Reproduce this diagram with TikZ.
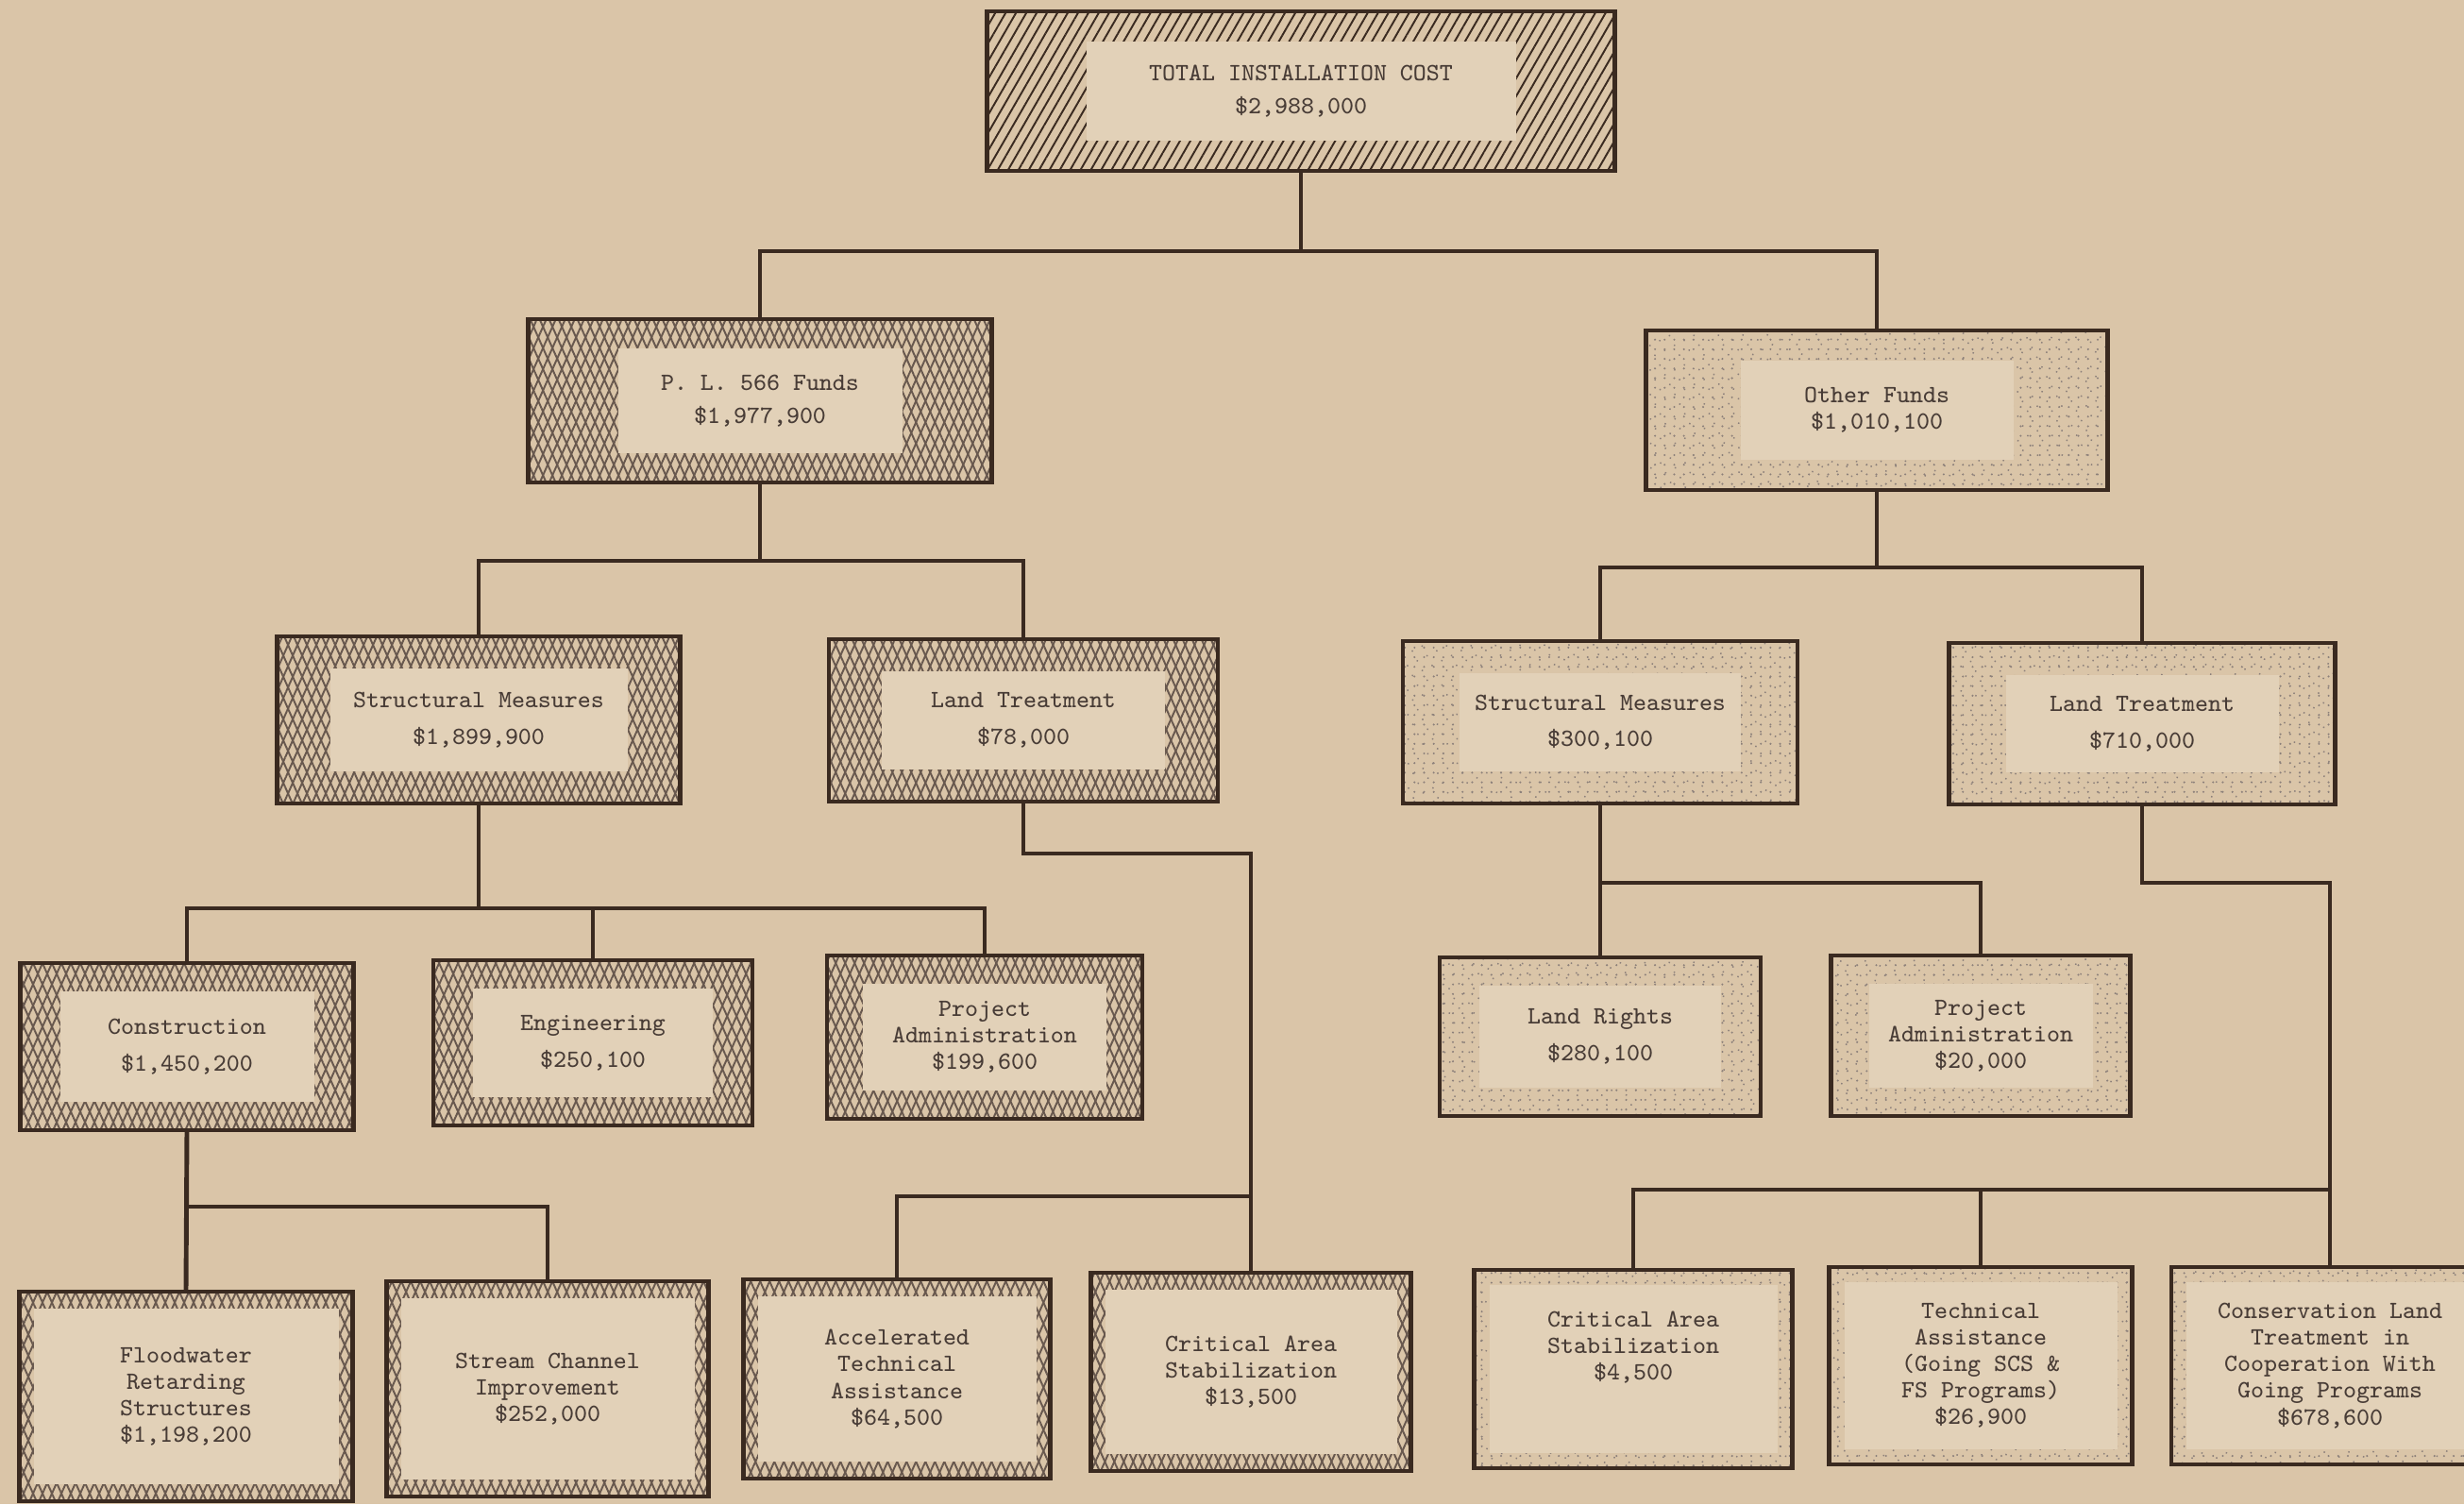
\documentclass[tikz,border=0pt]{standalone}
\usepackage{tikz}
\usetikzlibrary{patterns.meta}

\definecolor{bgc}{RGB}{218,197,168}
\definecolor{paper}{RGB}{226,209,184}
\definecolor{ink}{RGB}{58,42,32}
\definecolor{meshc}{RGB}{104,88,78}
\definecolor{dotc}{RGB}{140,128,122}
\definecolor{textc}{RGB}{72,60,54}

\begin{document}
\begin{tikzpicture}[
    box/.style 2 args={draw=ink, line width=1.4pt, inner sep=0pt, outer sep=0pt,
        align=center, text=textc,
        font=\ttfamily\fontsize{7.5}{8}\selectfont,
        path picture={\fill[paper]
            ([xshift=#1, yshift=-#2]path picture bounding box.north west) rectangle
            ([xshift=-#1, yshift=#2]path picture bounding box.south east);}},
    boxsize/.style 2 args={minimum width=#1cm, minimum height=#2cm},
    hatch/.style={pattern={Lines[angle=60, distance=2.7pt, line width=0.55pt]},
        pattern color=ink},
    mesh/.style={preaction={pattern={Lines[angle=66, distance=2.6pt, line width=0.55pt]},
            pattern color=meshc},
        pattern={Lines[angle=-66, distance=2.6pt, line width=0.55pt]},
        pattern color=meshc},
    stipple/.style={preaction={pattern={Dots[distance=2.9pt, radius=0.33pt]},
            pattern color=dotc},
        pattern={Dots[angle=27, distance=3.3pt, radius=0.3pt, xshift=1.1pt]},
        pattern color=dotc},
    wire/.style={draw=ink, line width=1.4pt}
]
    \useasboundingbox (0,0) rectangle (26.1,-15.93);
    \fill[bgc] (0,0) rectangle (26.1,-15.93);

    \node[box={1.05cm}{0.32cm}, hatch, boxsize={6.65}{1.69}] (total) at (13.78,-0.965)
        {TOTAL INSTALLATION COST\\[2pt]\$2,988,000};

    \node[box={0.95cm}{0.31cm}, mesh, boxsize={4.91}{1.73}] (pl) at (8.05,-4.245)
        {P. L. 566 Funds\\[2pt]\$1,977,900};
    \node[box={1.0cm}{0.32cm}, stipple, boxsize={4.89}{1.69}] (other) at (19.88,-4.345)
        {Other Funds\\\$1,010,100};

    \node[box={0.56cm}{0.34cm}, mesh, boxsize={4.27}{1.77}] (smA) at (5.07,-7.625)
        {Structural Measures\\[3pt]\$1,899,900};
    \node[box={0.56cm}{0.34cm}, mesh, boxsize={4.12}{1.72}] (ltA) at (10.84,-7.63)
        {Land Treatment\\[3pt]\$78,000};
    \node[box={0.6cm}{0.34cm}, stipple, boxsize={4.18}{1.72}] (smB) at (16.95,-7.65)
        {Structural Measures\\[3pt]\$300,100};
    \node[box={0.6cm}{0.34cm}, stipple, boxsize={4.09}{1.71}] (ltB) at (22.69,-7.665)
        {Land Treatment\\[3pt]\$710,000};

    \node[box={0.42cm}{0.3cm}, mesh, boxsize={3.53}{1.77}] (cons) at (1.98,-11.085)
        {Construction\\[3pt]\$1,450,200};
    \node[box={0.42cm}{0.3cm}, mesh, boxsize={3.38}{1.75}] (eng) at (6.28,-11.045)
        {Engineering\\[3pt]\$250,100};
    \node[box={0.38cm}{0.3cm}, mesh, boxsize={3.34}{1.73}] (paA) at (10.43,-10.985)
        {Project\\Administration\\\$199,600};
    \node[box={0.42cm}{0.3cm}, stipple, boxsize={3.40}{1.68}] (lr) at (16.95,-10.98)
        {Land Rights\\[3pt]\$280,100};
    \node[box={0.4cm}{0.3cm}, stipple, boxsize={3.17}{1.70}] (paB) at (20.98,-10.97)
        {Project\\Administration\\\$20,000};

    \node[box={0.15cm}{0.18cm}, mesh, boxsize={3.53}{2.22}] (flood) at (1.97,-14.79)
        {Floodwater\\Retarding\\Structures\\\$1,198,200};
    \node[box={0.15cm}{0.18cm}, mesh, boxsize={3.41}{2.28}] (stream) at (5.80,-14.71)
        {Stream Channel\\Improvement\\\$252,000};
    \node[box={0.15cm}{0.18cm}, mesh, boxsize={3.25}{2.11}] (accel) at (9.50,-14.605)
        {Accelerated\\Technical\\Assistance\\\$64,500};
    \node[box={0.15cm}{0.18cm}, mesh, boxsize={3.39}{2.10}] (critA) at (13.25,-14.53)
        {Critical Area\\Stabilization\\\$13,500};
    \node[box={0.16cm}{0.16cm}, stipple, boxsize={3.37}{2.10}] (critB) at (17.30,-14.50)
        {Critical Area\\Stabilization\\\$4,500\\[6pt]};
    \node[box={0.16cm}{0.16cm}, stipple, boxsize={3.21}{2.09}] (tech) at (20.98,-14.465)
        {Technical\\Assistance\\(Going SCS \&\\FS Programs)\\\$26,900};
    \node[box={0.16cm}{0.16cm}, stipple, boxsize={3.36}{2.09}] (conserv) at (24.68,-14.465)
        {Conservation Land\\Treatment in\\Cooperation With\\Going Programs\\\$678,600};

    \draw[wire] (total.south) -- ++(0,-0.85) -| (pl.north);
    \draw[wire] (total.south) -- ++(0,-0.85) -| (other.north);
    \draw[wire] (pl.south) -- ++(0,-0.83) -| (smA.north);
    \draw[wire] (pl.south) -- ++(0,-0.83) -| (ltA.north);
    \draw[wire] (other.south) -- ++(0,-0.82) -| (smB.north);
    \draw[wire] (other.south) -- ++(0,-0.82) -| (ltB.north);
    \draw[wire] (smA.south) -- ++(0,-1.11) -| (cons.north);
    \draw[wire] (smA.south) -- ++(0,-1.11) -| (eng.north);
    \draw[wire] (smA.south) -- ++(0,-1.11) -| (paA.north);
    \draw[wire] (ltA.south) -- ++(0,-0.55) -| (critA.north);
    \draw[wire] (accel.north) -- ++(0,0.88) -| (critA.north);
    \draw[wire] (smB.south) -- ++(0,-0.84) -| (lr.north);
    \draw[wire] (smB.south) -- ++(0,-0.84) -| (paB.north);
    \draw[wire] (ltB.south) -- ++(0,-0.83) -| (conserv.north);
    \coordinate (forkB) at ([yshift=0.85cm]critB.north);
    \draw[wire] (critB.north) -- (forkB) -| (conserv.north);
    \draw[wire] (tech.north) -- (tech.north |- forkB);
    \draw[wire] (cons.south) -- ++(0,-0.81) -| (stream.north);
    \draw[wire] (cons.south) -- (flood.north);
\end{tikzpicture}
\end{document}
